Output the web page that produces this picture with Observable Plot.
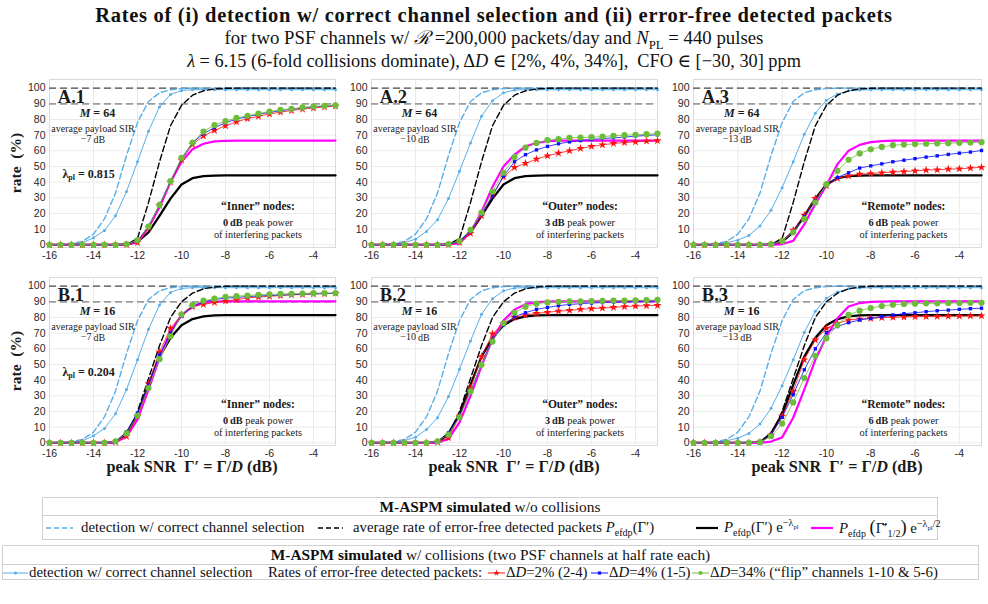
<!DOCTYPE html>
<html>
<head>
<meta charset="utf-8">
<script src="https://cdn.jsdelivr.net/npm/d3@7"></script>
<script src="https://cdn.jsdelivr.net/npm/@observablehq/plot@0.6"></script>
<style>
  html, body { margin: 0; padding: 0; background: #fff; }
  body { width: 988px; height: 604px; position: relative; overflow: hidden;
         font-family: "Liberation Serif", "Times New Roman", Times, "DejaVu Serif", serif; color: #111; }
  .t { position: absolute; left: 0; width: 988px; text-align: center; white-space: nowrap; }
  .t1 { top: 3px; font-size: 20.5px; font-weight: bold; line-height: 24px; letter-spacing: 0.7px; }
  .t2 { top: 27px; font-size: 18.8px; line-height: 22px; }
  .t3 { top: 50px; font-size: 18.3px; line-height: 22px; }
  sub, sup { font-size: 68%; line-height: 0; }
  .panel { position: absolute; }
  .box { position: absolute; border: 1px solid #cfcfcf; background: #fff; font-size: 14.8px; box-sizing: border-box; }
  .hdr { position: absolute; left: 0; right: 0; top: 0; text-align: center; border-bottom: 1px solid #cfcfcf; white-space: nowrap; font-size: 15.4px; }
  .item { position: absolute; white-space: nowrap; display: flex; align-items: center; }
  .item svg { display: block; margin-right: 4px; }
</style>
</head>
<body>
<div class="t t1">Rates of (i) detection w/ correct channel selection and (ii) error-free detected packets</div>
<div class="t t2">for two PSF channels w/ <i>ℛ</i> =200,000 packets/day and <i>N</i><sub>PL</sub> = 440 pulses</div>
<div class="t t3"><i>λ</i> = 6.15 (6-fold collisions dominate), Δ<i>D</i> ∈ [2%, 4%, 34%], &nbsp;CFO ∈ [−30, 30] ppm</div>
<div id="panels"></div>
<div id="legend"></div>
<script>
// peak SNR grid (dB), shared by every series
const snr = [-16, -15.5, -15, -14.5, -14, -13.5, -13, -12.5, -12, -11.5, -11, -10.5, -10, -9.5,
             -9, -8.5, -8, -7.5, -7, -6.5, -6, -5.5, -5, -4.5, -4, -3.5, -3];
const xTicks = [-16, -14, -12, -10, -8, -6, -4];
const yTicks = [0, 10, 20, 30, 40, 50, 60, 70, 80, 90, 100];

// w/o collisions: detection with correct channel selection
const detNoColl = [0, 0.2, 0.7, 2.2, 6.8, 16.6, 33, 57, 78, 91.5, 97, 99, 99.7, 100, 100, 100, 100, 100, 100, 100, 100, 100, 100, 100, 100, 100, 100];
// w/o collisions: average rate of error-free detected packets (M = 64 / M = 16)
const efdpA = [0, 0, 0, 0, 0, 0, 0, 0.3, 4, 27, 53, 76, 89, 95.5, 98.3, 99.5, 99.9, 100, 100, 100, 100, 100, 100, 100, 100, 100, 100];
const efdpB = [0, 0, 0, 0, 0, 0, 0.5, 5, 20, 41, 62, 80, 90, 95.5, 98.3, 99.4, 99.9, 100, 100, 100, 100, 100, 100, 100, 100, 100, 100];
// P_efdp(Γ') e^{-λpl}
const penA = [0, 0, 0, 0, 0, 0, 0, 0.2, 2, 8, 18.5, 29.5, 38.5, 42.5, 43.8, 44.2, 44.3, 44.3, 44.3, 44.3, 44.3, 44.3, 44.3, 44.3, 44.3, 44.3, 44.3];
const penB = [0, 0, 0, 0, 0, 0, 0.3, 6, 18, 37, 55, 67, 75, 79, 80.7, 81.3, 81.5, 81.5, 81.5, 81.5, 81.5, 81.5, 81.5, 81.5, 81.5, 81.5, 81.5];

// w/ collisions: detection with correct channel selection (0 / 3 / 6 dB interferers)
const det1 = [0, 0.1, 0.4, 1.3, 4.5, 9.2, 18.5, 34, 53, 72.5, 88, 96, 98.5, 99, 99, 99, 99, 99, 99, 99, 99, 99, 99, 99, 99, 99, 99];
const det2 = [0, 0.1, 0.4, 1.5, 3.6, 8.5, 16, 29.5, 47, 65, 82, 92, 97, 98.8, 99, 99, 99, 99, 99, 99, 99, 99, 99, 99, 99, 99, 99];
const det3 = [0, 0.1, 0.5, 1.3, 3, 6, 12, 22, 36.5, 53, 70.5, 84, 92.3, 96.3, 98.3, 98.8, 99, 99, 99, 99, 99, 99, 99, 99, 99, 99, 99];

// P_efdp(Γ̄'_{1/2}) e^{-λpl/2}
const halfA1 = [0, 0, 0, 0, 0, 0, 0, 0.2, 1.5, 11, 24, 40, 53, 61, 64.5, 66, 66.4, 66.5, 66.5, 66.5, 66.5, 66.5, 66.5, 66.5, 66.5, 66.5, 66.5];
const halfA2 = [0, 0, 0, 0, 0, 0, 0, 0.2, 1, 8, 21, 37, 50, 57.5, 62.8, 65, 66.2, 66.5, 66.5, 66.5, 66.5, 66.5, 66.5, 66.5, 66.5, 66.5, 66.5];
const halfA3 = [0, 0, 0, 0, 0, 0, 0, 0, 0.5, 2.5, 13, 26, 38, 51.5, 60, 63.8, 65.5, 66.2, 66.5, 66.5, 66.5, 66.5, 66.5, 66.5, 66.5, 66.5, 66.5];
const halfB1 = [0, 0, 0, 0, 0, 0, 0.3, 4, 15, 34, 54, 71, 81.5, 87, 89.6, 90.1, 90.3, 90.3, 90.3, 90.3, 90.3, 90.3, 90.3, 90.3, 90.3, 90.3, 90.3];
const halfB2 = [0, 0, 0, 0, 0, 0, 0, 2.5, 13, 30, 49, 66, 78, 85, 88.5, 89.8, 90.2, 90.3, 90.3, 90.3, 90.3, 90.3, 90.3, 90.3, 90.3, 90.3, 90.3];
const halfB3 = [0, 0, 0, 0, 0, 0, 0, 0.8, 3.5, 16, 34, 53, 68, 79.5, 87, 89.2, 90, 90.2, 90.3, 90.3, 90.3, 90.3, 90.3, 90.3, 90.3, 90.3, 90.3];

// w/ collisions: error-free detected packets, ΔD = 2% / 4% / 34%
const d2A1  = [0, 0, 0, 0, 0, 0, 0, 0.2, 1.5, 11, 25, 40, 54, 64, 69.5, 73, 76, 78.5, 80.5, 82, 83.5, 84.7, 85.7, 86.6, 87.3, 88, 88.5];
const d4A1  = [0, 0, 0, 0, 0, 0, 0, 0.4, 2.5, 12, 25.5, 40.5, 55, 65, 71, 74.8, 78, 80.2, 81.8, 83.3, 84.5, 85.6, 86.5, 87.3, 88, 88.5, 89];
const d34A1 = [0, 0, 0, 0, 0, 0, 0, 0.4, 3, 11.7, 25.5, 40.6, 55.5, 65.3, 72.3, 76.4, 79, 81, 82.3, 83.8, 85, 86.2, 86.8, 87.7, 88.3, 88.7, 89];

const d2A2  = [0, 0, 0, 0, 0, 0, 0, 0.2, 1.5, 7.4, 18.5, 32, 43.4, 49.4, 52, 54.7, 56.8, 58.5, 60, 61.5, 62.8, 63.8, 64.7, 65.3, 65.7, 66.2, 66.5];
const d4A2  = [0, 0, 0, 0, 0, 0, 0, 0.3, 2, 8.5, 19.5, 31, 44, 53, 57.5, 60.6, 62.8, 64.5, 65.7, 66.5, 67.2, 67.8, 68.3, 68.8, 69.3, 69.8, 70.2];
const d34A2 = [0, 0, 0, 0, 0, 0, 0, 0.4, 2.5, 9.6, 20.6, 34, 46, 56, 62, 65, 66.8, 67.4, 68.3, 68.5, 68.7, 69, 69.6, 70, 70.2, 70.6, 71];

const d2A3  = [0, 0, 0, 0, 0, 0, 0, 0.3, 2.5, 9.4, 19, 29.6, 37.7, 42.5, 44, 45.1, 45.5, 46, 46.4, 46.8, 47.2, 47.7, 47.9, 48.3, 48.5, 49, 49.5];
const d4A3  = [0, 0, 0, 0, 0, 0, 0, 0.4, 2.5, 8.5, 18, 28, 38, 43, 46, 49, 50.4, 51.7, 53, 54, 55, 56, 56.8, 57.7, 58.5, 59.2, 60.2];
const d34A3 = [0, 0, 0, 0, 0, 0, 0, 0.4, 2.5, 8, 16.4, 27, 38.7, 47.2, 54.3, 58.3, 61, 62.5, 63.6, 64, 64.3, 64.5, 64.7, 64.9, 65.1, 65.3, 65.5];

const d2B1  = [0, 0, 0, 0, 0, 0, 0.5, 4.2, 17, 37.7, 58, 73, 81.5, 86.9, 88.3, 89.6, 90.5, 91.3, 92.5, 93, 93.5, 94, 94.4, 94.7, 95, 95.2, 95.4];
const d4B1  = [0, 0, 0, 0, 0, 0, 0.8, 7, 19, 37, 56, 70, 81, 87, 90, 91.5, 92.3, 92.8, 93.3, 93.7, 94, 94.3, 94.6, 94.9, 95.1, 95.3, 95.5];
const d34B1 = [0, 0, 0, 0, 0, 0, 1, 6, 17.4, 35, 53.4, 68, 82, 88, 90.7, 92, 93.2, 93.6, 94, 94.5, 94.7, 95, 95.1, 95.3, 95.5, 95.5, 95.6];

const d2B2  = [0, 0, 0, 0, 0, 0, 0.5, 3.2, 17, 35, 55, 69.5, 76.3, 80, 81.6, 82.6, 83.3, 84, 84.5, 85.2, 85.6, 86, 86.4, 86.9, 87.3, 87.5, 87.7];
const d4B2  = [0, 0, 0, 0, 0, 0, 0.8, 6.4, 17, 33, 50, 65.7, 75.2, 80.5, 83, 85.2, 86.4, 87.5, 88.3, 88.8, 89.2, 89.5, 89.7, 89.9, 90.1, 90.3, 90.5];
const d34B2 = [0, 0, 0, 0, 0, 0, 1, 5.3, 16.3, 32.8, 49.8, 64.6, 76.3, 83, 86.9, 88.8, 89.6, 90, 90.3, 90.3, 90.5, 90.6, 90.7, 90.8, 90.9, 91, 91.2];

const d2B3  = [0, 0, 0, 0, 0, 0, 0.5, 4.9, 17, 32.8, 53, 65.7, 73, 76.3, 78.4, 79, 79.4, 79.9, 80.1, 80.3, 80.5, 80.6, 80.7, 80.8, 80.9, 81, 81.1];
const d4B3  = [0, 0, 0, 0, 0, 0, 0.5, 5.3, 16.3, 30.7, 46.6, 60, 70.3, 74.2, 76.7, 78.4, 79.4, 80.5, 81.6, 82.4, 83, 83.7, 84.3, 84.7, 85.2, 85.6, 85.9];
const d34B3 = [0, 0, 0, 0, 0, 0, 0.4, 4.2, 12.3, 25.8, 41.3, 55.5, 66.7, 75.2, 81.6, 84.3, 86, 87.3, 88.1, 88.6, 88.8, 89, 89, 89.2, 89.2, 89.4, 89.4];

// panel annotations
const panelNames = ["A.1", "A.2", "A.3", "B.1", "B.2", "B.3"];
const alphabetSize = [64, 16];
const payloadSIR = ["−7", "−10", "−13"];
const lambdaPl = ["0.815", "0.204"];
const nodeType = ["Inner", "Outer", "Remote"];
const peakPower = ["0", "3", "6"];

const C = {lb: "#58aeea", mag: "#ff00ff", red: "#ff1010", blue: "#0a10ff", green: "#6dbd3b"};

const panels = [
  {row: 0, col: 0, det: det1, eff: efdpA, pen: penA, half: halfA1, d2: d2A1, d4: d4A1, d34: d34A1},
  {row: 0, col: 1, det: det2, eff: efdpA, pen: penA, half: halfA2, d2: d2A2, d4: d4A2, d34: d34A2},
  {row: 0, col: 2, det: det3, eff: efdpA, pen: penA, half: halfA3, d2: d2A3, d4: d4A3, d34: d34A3},
  {row: 1, col: 0, det: det1, eff: efdpB, pen: penB, half: halfB1, d2: d2B1, d4: d4B1, d34: d34B1},
  {row: 1, col: 1, det: det2, eff: efdpB, pen: penB, half: halfB2, d2: d2B2, d4: d4B2, d34: d34B2},
  {row: 1, col: 2, det: det3, eff: efdpB, pen: penB, half: halfB3, d2: d2B3, d4: d4B3, d34: d34B3}
];

// page geometry of the 2 x 3 grid
const colGeo = [{left: 0, w: 340, ml: 49, mr: 5}, {left: 330, w: 330, ml: 41, mr: 3}, {left: 656, w: 332, ml: 37, mr: 7}];
const rowGeo = [{top: 75, h: 192, mt: 4, mb: 20}, {top: 273, h: 202, mt: 4, mb: 30}];

const serif = '"Liberation Serif", "Times New Roman", Times, "DejaVu Serif", serif';
const series = ys => snr.map((x, i) => ({x, y: ys[i]}));

function drawPanel(p, k) {
  const g = colGeo[p.col], r = rowGeo[p.row];
  const xy = {x: "x", y: "y"};
  const chart = Plot.plot({
    width: g.w, height: r.h,
    marginLeft: g.ml, marginRight: g.mr, marginTop: r.mt, marginBottom: r.mb,
    style: {fontFamily: '"Liberation Sans", Arial, sans-serif', fontSize: "10.5px", color: "#262626", background: "transparent", overflow: "visible"},
    x: {domain: [-16, -3], ticks: xTicks, tickSize: 0, tickPadding: 4, tickFormat: d => String(d), label: null},
    y: {domain: [-1.7, 105.5], ticks: yTicks, tickSize: 0, tickPadding: 4, label: null},
    marks: [
      Plot.ruleX(xTicks, {stroke: "#ebebeb"}),
      Plot.ruleY(yTicks, {stroke: "#ebebeb"}),
      Plot.frame({stroke: "#dadada"}),
      Plot.ruleY([100], {stroke: "#4a4a4a", strokeWidth: 1.3, strokeDasharray: "7,4"}),
      Plot.ruleY([90], {stroke: "#9c9c9c", strokeWidth: 1.7, strokeDasharray: "7,4"}),
      // without collisions
      Plot.line(series(detNoColl), {...xy, stroke: C.lb, strokeWidth: 1.4, strokeDasharray: "6,3"}),
      // detection with collisions
      Plot.line(series(p.det), {...xy, stroke: C.lb, strokeWidth: 1}),
      Plot.dot(series(p.det), {...xy, r: 1.5, fill: C.lb}),
      Plot.line(series(p.eff), {...xy, stroke: "#000", strokeWidth: 1.4, strokeDasharray: "6,3"}),
      Plot.line(series(p.pen), {...xy, stroke: "#000", strokeWidth: 2.3}),
      Plot.line(series(p.half), {...xy, stroke: C.mag, strokeWidth: 2.2}),
      // error-free detected packets with collisions
      Plot.line(series(p.d2), {...xy, stroke: C.red, strokeWidth: 0.8}),
      Plot.dot(series(p.d2), {...xy, symbol: "star", r: 2.6, fill: C.red}),
      Plot.line(series(p.d4), {...xy, stroke: C.blue, strokeWidth: 0.8}),
      Plot.dot(series(p.d4), {...xy, symbol: "square", r: 1.9, fill: C.blue}),
      Plot.line(series(p.d34), {...xy, stroke: C.green, strokeWidth: 0.8}),
      Plot.dot(series(p.d34), {...xy, r: 3.1, fill: C.green})
    ]
  });

  const sx = chart.scale("x"), sy = chart.scale("y");
  const s = d3.select(chart);
  const note = (x, y, html, size, weight = "normal", anchor = "middle") =>
    s.append("text")
      .attr("x", sx.apply(x)).attr("y", sy.apply(y))
      .attr("font-family", serif).attr("font-size", size).attr("font-weight", weight)
      .attr("text-anchor", anchor).attr("dominant-baseline", "central")
      .attr("fill", "#1a1a1a").html(html);

  note(-15.6, 94, panelNames[k], 18.5, "bold", "start");
  note(-13.8, 84, `<tspan font-style="italic">M</tspan> = ${alphabetSize[p.row]}`, 12, "bold");
  note(-14.0, 74, "average payload SIR", 10);
  note(-14.0, 67.3, `${payloadSIR[p.col]}<tspan dx="2">dB</tspan>`, 10);
  if (p.col === 0) {
    note(-14.2, 44.7, `λ<tspan dy="3" font-size="8">pl</tspan><tspan dy="-3"> = ${lambdaPl[p.row]}</tspan>`, 12, "bold");
  }
  note(-6.5, 24.2, `“${nodeType[p.col]}” nodes:`, 11.5, "bold");
  note(-6.5, 14, `<tspan font-weight="bold">${peakPower[p.col]}<tspan dx="2">dB</tspan></tspan> peak power`, 10.3);
  note(-6.5, 6.4, "of interfering packets", 10.3);

  const [y0, y1] = [sy.apply(-1.7), sy.apply(105.5)];
  if (p.col === 0) {
    s.append("text")
      .attr("transform", `translate(15,${(y0 + y1) / 2}) rotate(-90)`)
      .attr("font-family", serif).attr("font-size", 15.5).attr("font-weight", "bold")
      .attr("text-anchor", "middle").attr("dominant-baseline", "central").attr("fill", "#1a1a1a")
      .attr("xml:space", "preserve")
      .text("rate  (%)");
  }
  if (p.row === 1) {
    s.append("text")
      .attr("x", (sx.apply(-16) + sx.apply(-3)) / 2).attr("y", y0 + 22)
      .attr("font-family", serif).attr("font-size", 16.2).attr("font-weight", "bold")
      .attr("text-anchor", "middle").attr("dominant-baseline", "central").attr("fill", "#1a1a1a")
      .html(`peak SNR&#160;&#160;Γ′ = Γ/<tspan font-style="italic">D</tspan> (dB)`);
  }

  const div = document.createElement("div");
  div.className = "panel";
  div.style.left = g.left + "px";
  div.style.top = r.top + "px";
  div.style.width = g.w + "px";
  div.appendChild(chart);
  document.getElementById("panels").appendChild(div);
}
panels.forEach(drawPanel);

// legend swatches
function swatch(w, stroke, {dash = null, width = 1, symbol = null, size = 0} = {}) {
  const svg = d3.create("svg").attr("width", w).attr("height", 12);
  svg.append("line").attr("x1", 0).attr("x2", w).attr("y1", 6).attr("y2", 6)
    .attr("stroke", stroke).attr("stroke-width", width).attr("stroke-dasharray", dash);
  if (symbol) {
    svg.append("path").attr("transform", `translate(${w / 2},6)`)
      .attr("d", d3.symbol(symbol, size)()).attr("fill", stroke);
  }
  return svg.node().outerHTML;
}

const legend = document.getElementById("legend");
legend.innerHTML = `
<div class="box" style="left:42px;top:497px;width:896px;height:43px">
  <div class="hdr" style="height:17px;line-height:17px"><b>M-ASPM simulated</b> w/o collisions</div>
  <div class="item" style="left:3px;top:18px;height:23px">${swatch(27, C.lb, {dash: "5,3", width: 1.4})}<span style="margin-left:4px">detection w/ correct channel selection</span></div>
  <div class="item" style="left:275px;top:18px;height:23px">${swatch(25, "#000", {dash: "5,3", width: 1.4})}<span style="margin-left:6px">average rate of error-free detected packets <i>P</i><sub>efdp</sub>(Γ′)</span></div>
  <div class="item" style="left:653px;top:18px;height:23px">${swatch(22, "#000", {width: 2.2})}<span style="margin-left:2px"><i>P</i><sub>efdp</sub>(Γ′) e<sup>−λ<sub>pl</sub></sup></span></div>
  <div class="item" style="left:768px;top:18px;height:23px">${swatch(22, C.mag, {width: 2.2})}<span style="margin-left:2px"><i>P</i><sub>efdp</sub> <span style="font-size:125%">(</span>Γ̄′<sub>1/2</sub><span style="font-size:125%">)</span> e<sup>−λ<sub>pl</sub>/2</sup></span></div>
</div>
<div class="box" style="left:2px;top:545px;width:977px;height:35px">
  <div class="hdr" style="height:18px;line-height:18px"><b>M-ASPM simulated</b> w/ collisions (two PSF channels at half rate each)</div>
  <div class="item" style="left:0px;top:19px;height:15px">${swatch(25, C.lb, {width: 1, symbol: d3.symbolCircle, size: 8})}<span style="margin-left:-3px">detection w/ correct channel selection</span></div>
  <div class="item" style="left:265px;top:19px;height:15px">Rates of error-free detected packets:</div>
  <div class="item" style="left:485px;top:19px;height:15px">${swatch(17, C.red, {width: 1, symbol: d3.symbolStar, size: 14})}<span style="margin-left:-3px">Δ<i>D</i>=2% (2-4)</span></div>
  <div class="item" style="left:588px;top:19px;height:15px">${swatch(17, C.blue, {width: 1, symbol: d3.symbolSquare, size: 10})}<span style="margin-left:-3px">Δ<i>D</i>=4% (1-5)</span></div>
  <div class="item" style="left:689px;top:19px;height:15px">${swatch(17, C.green, {width: 1, symbol: d3.symbolCircle, size: 14})}<span style="margin-left:-3px">Δ<i>D</i>=34% (“flip” channels 1-10 &amp; 5-6)</span></div>
</div>`;
</script>
</body>
</html>
